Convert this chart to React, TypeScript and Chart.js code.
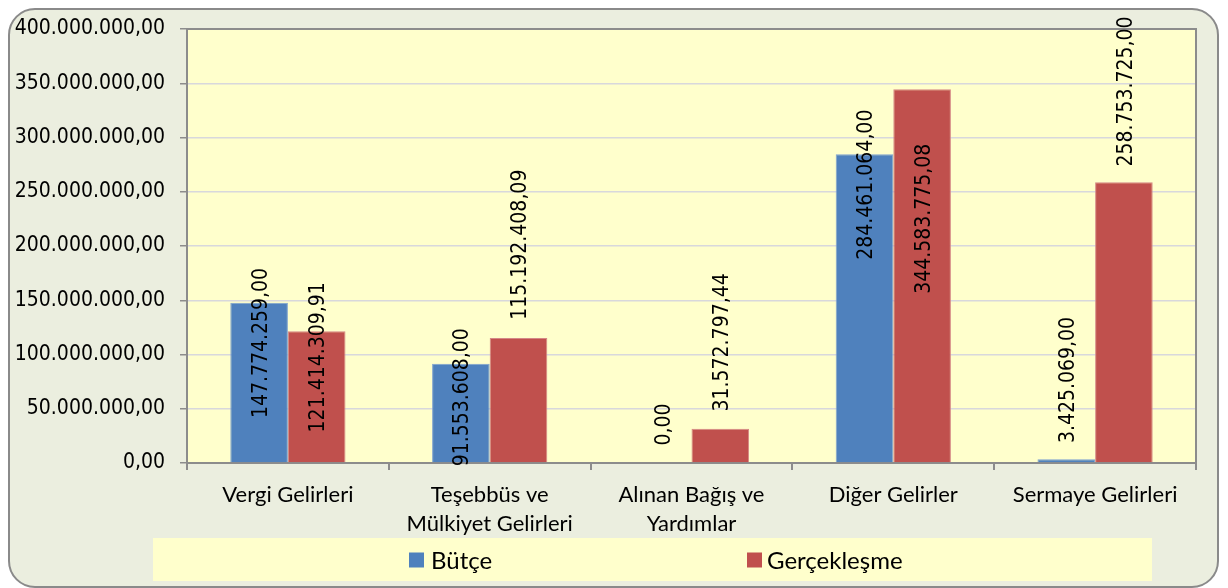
import React, { useEffect, useRef } from "react";
import { Chart, registerables } from "chart.js";

Chart.register(...registerables);

// ---------- data ----------
const categories: string[][] = [
  ["Vergi Gelirleri"],
  ["Teşebbüs ve", "Mülkiyet Gelirleri"],
  ["Alınan Bağış ve", "Yardımlar"],
  ["Diğer Gelirler"],
  ["Sermaye Gelirleri"],
];
const seriesNames = ["Bütçe", "Gerçekleşme"];
const butce = [147774259.0, 91553608.0, 0, 284461064.0, 3425069.0];
const gerceklesme = [121414309.91, 115192408.09, 31572797.44, 344583775.08, 258753725.0];
// value (axis units) at which each rotated value label starts
const butceLabelAt = [41.4e6, -3.1e6, 16.2e6, 187.3e6, 18.4e6];
const gerceklesmeLabelAt = [28.2e6, 132.0e6, 47.5e6, 155.9e6, 273.2e6];
const yMin = 0;
const yMax = 400000000;
const yStep = 50000000;

const seriesColors = ["#4F81BD", "#C0504D"];
const seriesBorders = ["#7EA2CF", "#D58785"];

function fmtTR(v: number): string {
  const neg = v < 0;
  const [i, d] = Math.abs(v).toFixed(2).split(".");
  return (neg ? "-" : "") + i.replace(/\B(?=(\d{3})+(?!\d))/g, ".") + "," + d;
}

const NUM_FONT = "'DejaVu Sans Condensed', 'DejaVu Sans', sans-serif";
const CAT_FONT = "Lato, 'Open Sans', sans-serif";

const decorPlugin = {
  id: "decor",
  beforeDraw(chart: any) {
    const { ctx, width, height, chartArea: a } = chart;
    ctx.save();
    ctx.beginPath();
    ctx.roundRect(1, 1, width - 3, height - 2, 26);
    ctx.fillStyle = "#EBEEDF";
    ctx.fill();
    ctx.lineWidth = 2;
    ctx.strokeStyle = "#8A8A8A";
    ctx.stroke();
    ctx.fillStyle = "#FFFFCC";
    ctx.fillRect(a.left, a.top, a.right - a.left, a.bottom - a.top);
    // legend band
    ctx.fillRect(145, 530, 999, 43);
    ctx.restore();
  },
  afterDatasetsDraw(chart: any) {
    const { ctx, chartArea: a } = chart;
    ctx.save();
    ctx.strokeStyle = "#8C8C8C";
    ctx.lineWidth = 2;
    ctx.beginPath();
    ctx.moveTo(a.left, a.top);
    ctx.lineTo(a.right, a.top);
    ctx.lineTo(a.right, a.bottom);
    ctx.stroke();

    const yScale = chart.scales.y;
    const anchors = [butceLabelAt, gerceklesmeLabelAt];
    ctx.fillStyle = "#000";
    ctx.font = `21px ${NUM_FONT}`;
    ctx.textAlign = "left";
    ctx.textBaseline = "alphabetic";
    chart.data.datasets.forEach((ds: any, di: number) => {
      const meta = chart.getDatasetMeta(di);
      meta.data.forEach((bar: any, j: number) => {
        const y = yScale.getPixelForValue(anchors[di][j]);
        ctx.save();
        ctx.translate(bar.x, y);
        ctx.rotate(-Math.PI / 2);
        ctx.fillText(fmtTR(ds.data[j]), 0, 7.6);
        ctx.restore();
      });
    });
    ctx.restore();
  },
  afterDraw(chart: any) {
    const { ctx } = chart;
    const boxX = [401, 739];
    const textX = [423, 759];
    const cy = 552;
    ctx.save();
    ctx.font = `24px ${CAT_FONT}`;
    ctx.textBaseline = "middle";
    ctx.textAlign = "left";
    chart.data.datasets.forEach((ds: any, i: number) => {
      ctx.fillStyle = ds.backgroundColor;
      ctx.fillRect(boxX[i], cy - 7.5, 15, 15);
      ctx.fillStyle = "#000";
      ctx.fillText(ds.label, textX[i], cy + 1);
    });
    ctx.restore();
  },
};

export default function App() {
  const ref = useRef<HTMLCanvasElement>(null);
  useEffect(() => {
    if (!ref.current) return;
    const chart = new Chart(ref.current, {
      type: "bar",
      data: {
        labels: categories,
        datasets: [
          {
            label: seriesNames[0],
            data: butce,
            backgroundColor: seriesColors[0],
            borderColor: seriesBorders[0],
            borderWidth: 1,
          },
          {
            label: seriesNames[1],
            data: gerceklesme,
            backgroundColor: seriesColors[1],
            borderColor: seriesBorders[1],
            borderWidth: 1,
          },
        ],
      },
      options: {
        animation: false,
        responsive: true,
        maintainAspectRatio: false,
        layout: { padding: { top: 21, right: 24, bottom: 45, left: 0 } },
        datasets: { bar: { barPercentage: 1, categoryPercentage: 0.571 } },
        plugins: {
          legend: { display: false },
          tooltip: { enabled: false },
        },
        scales: {
          x: {
            grid: {
              offset: true,
              drawOnChartArea: false,
              drawTicks: true,
              tickLength: 7,
              tickColor: "#8C8C8C",
              lineWidth: 2,
            },
            border: { color: "#8C8C8C", width: 2 },
            ticks: {
              color: "#000",
              padding: 11,
              maxRotation: 0,
              autoSkip: false,
              font: { family: CAT_FONT, size: 22, lineHeight: 1.29 },
            },
            afterFit(scale: any) {
              scale.height = 80;
              scale.paddingLeft = 0;
              scale.paddingRight = 0;
            },
          },
          y: {
            min: yMin,
            max: yMax,
            ticks: {
              stepSize: yStep,
              color: "#000",
              padding: 15,
              font: { family: NUM_FONT, size: 21 },
              callback: (v: any) => fmtTR(Number(v)),
            },
            grid: {
              color: "#D8D8DC",
              lineWidth: 1.5,
              tickLength: 7,
              tickColor: "#8C8C8C",
            },
            border: { color: "#8C8C8C", width: 2 },
            afterFit(scale: any) {
              scale.width = 179;
              scale.paddingTop = 0;
              scale.paddingBottom = 0;
            },
          },
        },
      },
      plugins: [decorPlugin],
    });
    return () => chart.destroy();
  }, []);
  return (
    <div style={{ width: 1212, height: 580, position: "relative" }}>
      <canvas ref={ref} />
    </div>
  );
}
